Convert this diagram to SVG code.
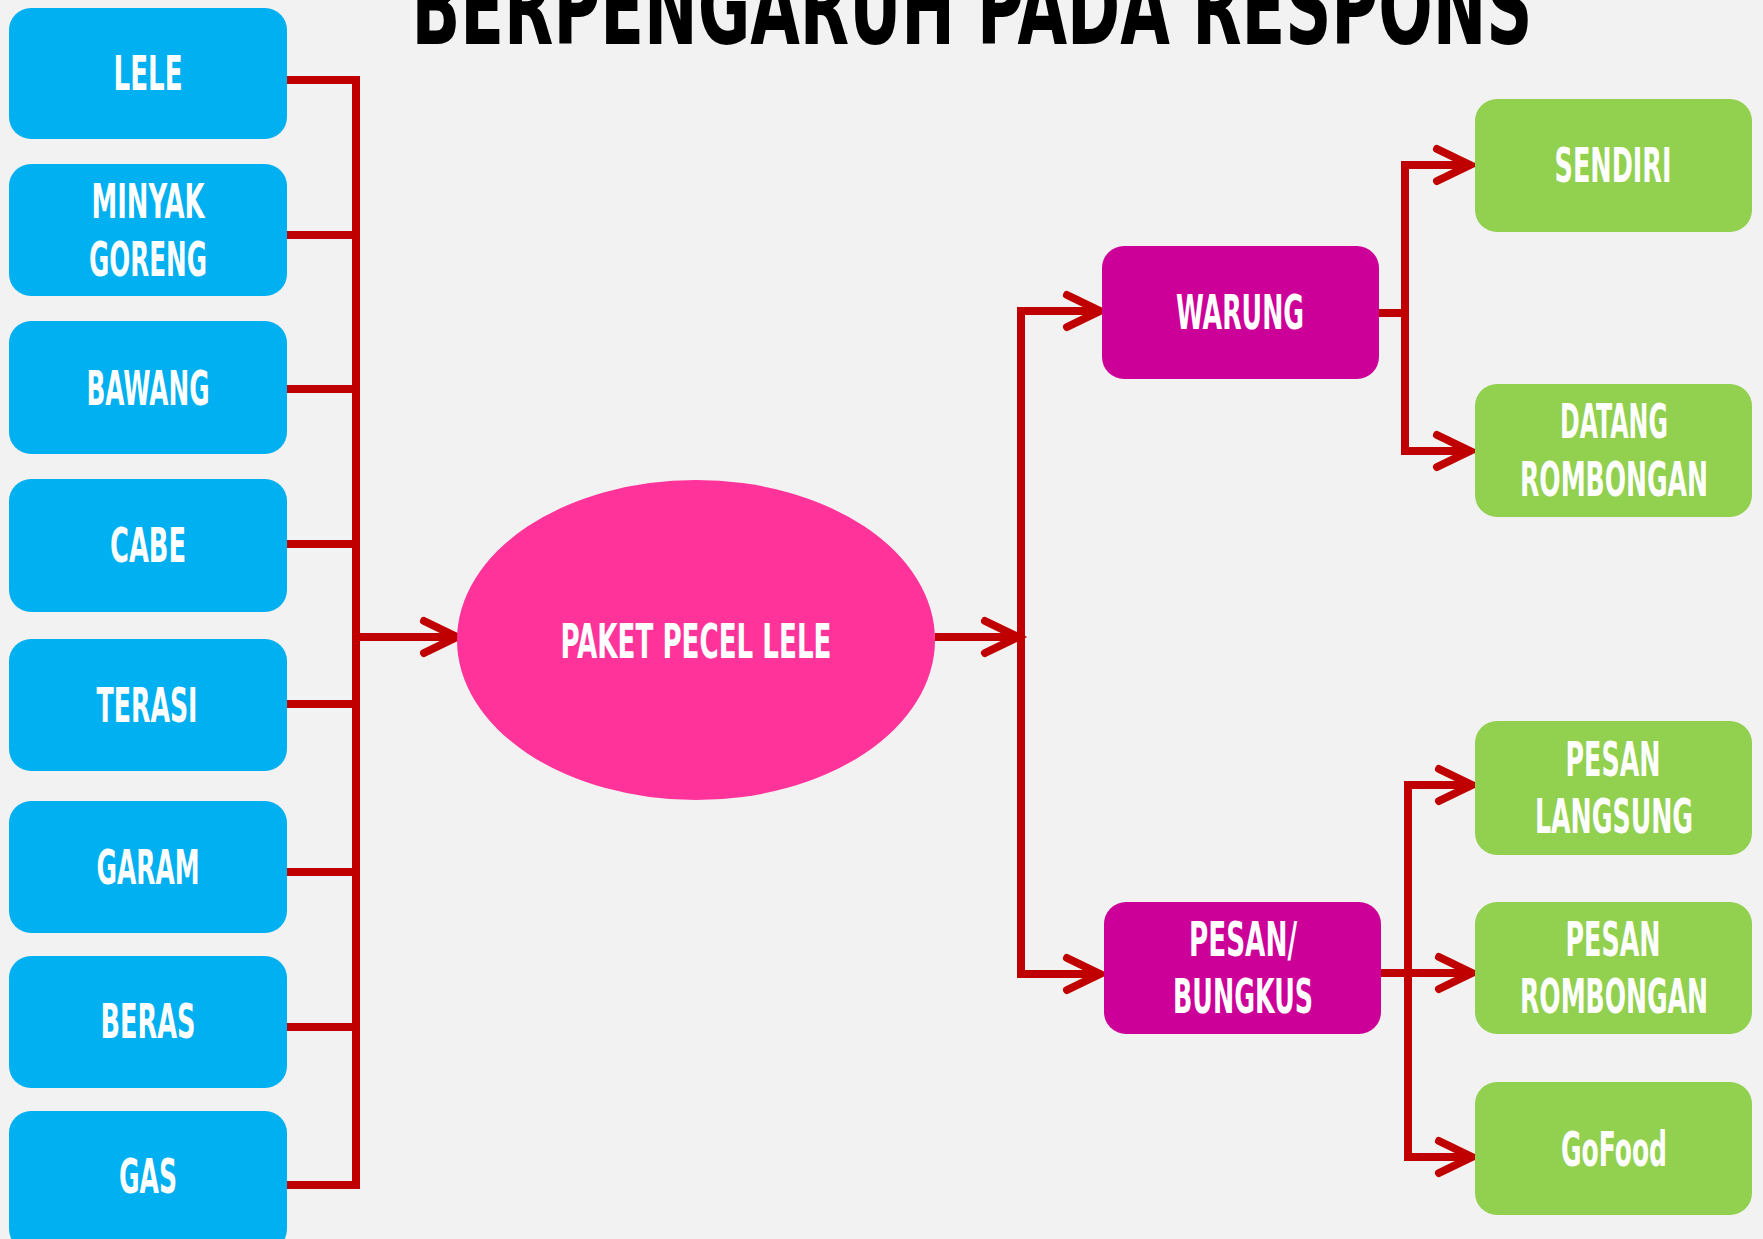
<svg xmlns="http://www.w3.org/2000/svg" xmlns:xlink="http://www.w3.org/1999/xlink" width="1763" height="1239" viewBox="0 0 1763 1239">
<defs>
<style>
.t{font-family:"DejaVu Sans Condensed","DejaVu Sans","Liberation Sans",sans-serif;font-weight:bold;fill:#FFFFFF;font-size:48px;text-anchor:middle}
.title{font-family:"DejaVu Sans Condensed","DejaVu Sans","Liberation Sans",sans-serif;font-weight:bold;fill:#000000;font-size:106px;text-anchor:middle}
.blue{fill:#00B0F0}
.mag{fill:#CC0099}
.green{fill:#92D050}
.ln{fill:none;stroke:#C00000;stroke-width:8;stroke-linejoin:miter}
.hd{fill:none;stroke:#C00000;stroke-width:8;stroke-linecap:round;stroke-linejoin:miter}
</style>
<path id="chev" class="hd" d="M-33,-16 L0,0 L-33,16"/>
</defs>
<rect x="0" y="0" width="1763" height="1239" fill="#F2F2F2"/>
<text class="title" x="972" y="44" textLength="1121" lengthAdjust="spacingAndGlyphs">BERPENGARUH PADA RESPONS</text>

<g id="connectors">
<path class="ln" d="M287,80 H356 V1185 H287"/>
<path class="ln" d="M287,235 H356"/>
<path class="ln" d="M287,389 H356"/>
<path class="ln" d="M287,544 H356"/>
<path class="ln" d="M287,704 H356"/>
<path class="ln" d="M287,872 H356"/>
<path class="ln" d="M287,1027 H356"/>
<path class="ln" d="M356,637 H455"/>
<use href="#chev" x="457" y="637"/>
<path class="ln" d="M935,637 H1016"/>
<use href="#chev" x="1018" y="637"/>
<path class="ln" d="M1098,311 H1021 V974 H1098"/>
<use href="#chev" x="1100" y="311"/>
<use href="#chev" x="1100" y="974"/>
<path class="ln" d="M1379,313 H1405"/>
<path class="ln" d="M1468,165 H1405 V451 H1468"/>
<use href="#chev" x="1470" y="165"/>
<use href="#chev" x="1470" y="451"/>
<path class="ln" d="M1381,973 H1470"/>
<path class="ln" d="M1470,785 H1408 V1157 H1470"/>
<use href="#chev" x="1472" y="785"/>
<use href="#chev" x="1472" y="973"/>
<use href="#chev" x="1472" y="1157"/>
</g>

<g id="lele"><rect class="blue" x="9" y="8" width="278" height="131" rx="22"/><text class="t" x="148" y="90" textLength="69" lengthAdjust="spacingAndGlyphs">LELE</text></g>
<g id="minyak-goreng"><rect class="blue" x="9" y="164" width="278" height="132" rx="22"/><text class="t" x="148" y="218" textLength="113" lengthAdjust="spacingAndGlyphs">MINYAK</text><text class="t" x="148" y="276" textLength="118" lengthAdjust="spacingAndGlyphs">GORENG</text></g>
<g id="bawang"><rect class="blue" x="9" y="321" width="278" height="133" rx="22"/><text class="t" x="148" y="405" textLength="123" lengthAdjust="spacingAndGlyphs">BAWANG</text></g>
<g id="cabe"><rect class="blue" x="9" y="479" width="278" height="133" rx="22"/><text class="t" x="148" y="562" textLength="76" lengthAdjust="spacingAndGlyphs">CABE</text></g>
<g id="terasi"><rect class="blue" x="9" y="639" width="278" height="132" rx="22"/><text class="t" x="147" y="722" textLength="101" lengthAdjust="spacingAndGlyphs">TERASI</text></g>
<g id="garam"><rect class="blue" x="9" y="801" width="278" height="132" rx="22"/><text class="t" x="148" y="884" textLength="103" lengthAdjust="spacingAndGlyphs">GARAM</text></g>
<g id="beras"><rect class="blue" x="9" y="956" width="278" height="132" rx="22"/><text class="t" x="148" y="1038" textLength="95" lengthAdjust="spacingAndGlyphs">BERAS</text></g>
<g id="gas"><rect class="blue" x="9" y="1111" width="278" height="140" rx="22"/><text class="t" x="148" y="1193" textLength="58" lengthAdjust="spacingAndGlyphs">GAS</text></g>

<g id="paket-pecel-lele"><ellipse cx="696" cy="640" rx="239" ry="160" fill="#FF3399"/><text class="t" x="696" y="658" textLength="271" lengthAdjust="spacingAndGlyphs">PAKET PECEL LELE</text></g>

<g id="warung"><rect class="mag" x="1102" y="246" width="277" height="133" rx="22"/><text class="t" x="1240" y="329" textLength="128" lengthAdjust="spacingAndGlyphs">WARUNG</text></g>
<g id="pesan-bungkus"><rect class="mag" x="1104" y="902" width="277" height="132" rx="22"/><text class="t" x="1243" y="956" textLength="108" lengthAdjust="spacingAndGlyphs">PESAN/</text><text class="t" x="1243" y="1013" textLength="140" lengthAdjust="spacingAndGlyphs">BUNGKUS</text></g>

<g id="sendiri"><rect class="green" x="1475" y="99" width="277" height="133" rx="22"/><text class="t" x="1613" y="182" textLength="117" lengthAdjust="spacingAndGlyphs">SENDIRI</text></g>
<g id="datang-rombongan"><rect class="green" x="1475" y="384" width="277" height="133" rx="22"/><text class="t" x="1614" y="438" textLength="108" lengthAdjust="spacingAndGlyphs">DATANG</text><text class="t" x="1614" y="496" textLength="188" lengthAdjust="spacingAndGlyphs">ROMBONGAN</text></g>
<g id="pesan-langsung"><rect class="green" x="1475" y="721" width="277" height="134" rx="22"/><text class="t" x="1613" y="776" textLength="95" lengthAdjust="spacingAndGlyphs">PESAN</text><text class="t" x="1614" y="833" textLength="158" lengthAdjust="spacingAndGlyphs">LANGSUNG</text></g>
<g id="pesan-rombongan"><rect class="green" x="1475" y="902" width="277" height="132" rx="22"/><text class="t" x="1613" y="956" textLength="95" lengthAdjust="spacingAndGlyphs">PESAN</text><text class="t" x="1614" y="1013" textLength="188" lengthAdjust="spacingAndGlyphs">ROMBONGAN</text></g>
<g id="gofood"><rect class="green" x="1475" y="1082" width="277" height="133" rx="22"/><text class="t" x="1614" y="1166" textLength="106" lengthAdjust="spacingAndGlyphs">GoFood</text></g>
</svg>
